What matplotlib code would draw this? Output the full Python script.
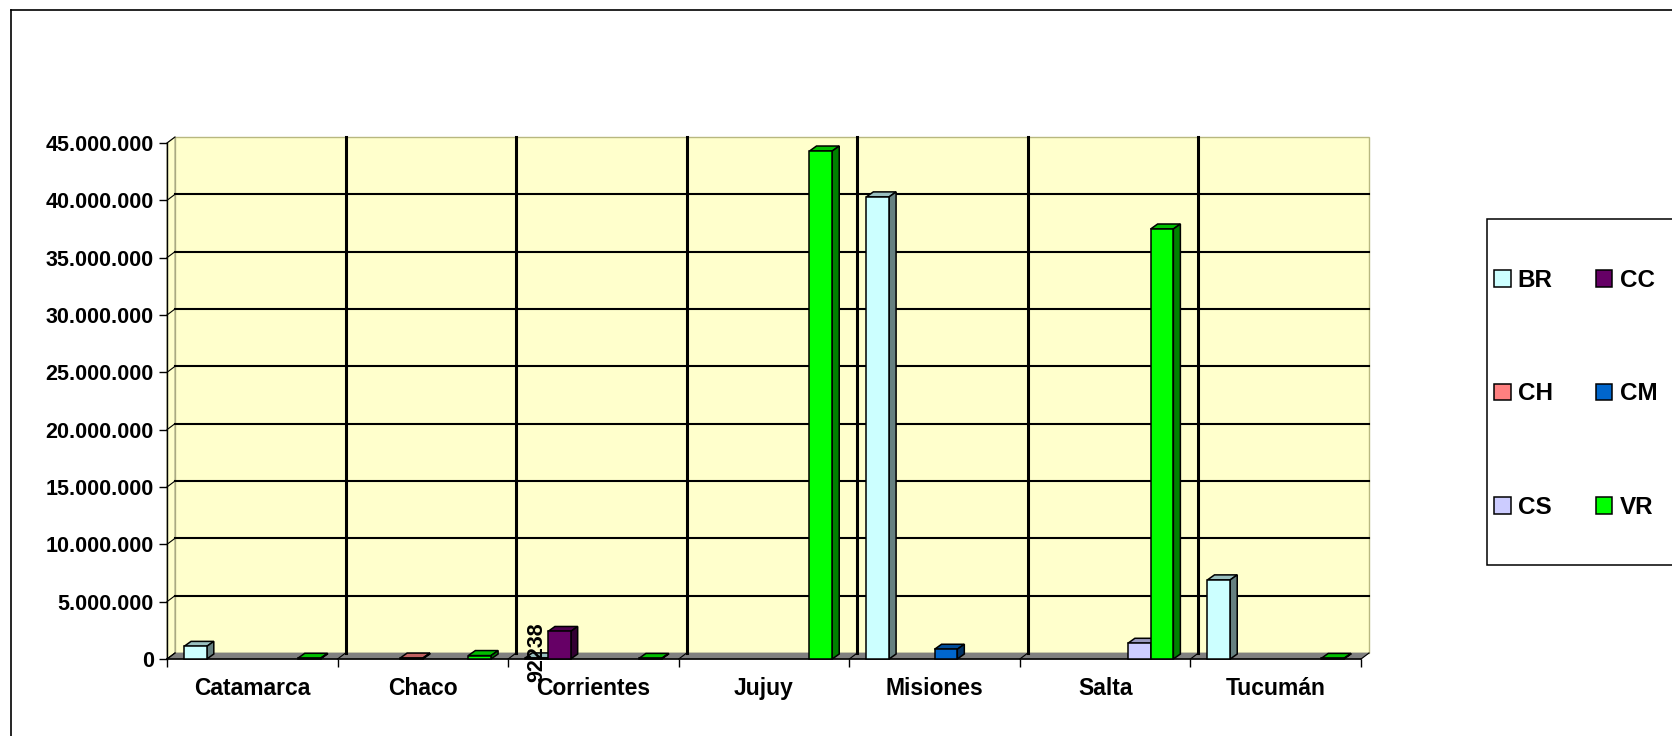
import matplotlib
matplotlib.use('Agg')
import matplotlib.pyplot as plt
import numpy as np
from matplotlib.patches import Polygon, Rectangle
from matplotlib.lines import Line2D
from matplotlib.ticker import FuncFormatter, FixedLocator

plt.rcParams['font.family'] = ['Liberation Sans', 'DejaVu Sans']
plt.rcParams['font.weight'] = 'bold'
plt.rcParams['font.size'] = 15

# datos
provincias = ['Catamarca', 'Chaco', 'Corrientes', 'Jujuy', 'Misiones', 'Salta', 'Tucumán']
series = ['BR', 'CC', 'CH', 'CM', 'CS', 'VR']
br = [1100000, 0, 92238, 0, 40300000, 0, 6900000]
cc = [0, 0, 2400000, 0, 0, 0, 0]
ch = [0, 80000, 0, 0, 0, 0, 0]
cm = [0, 0, 0, 0, 850000, 0, 0]
cs = [0, 0, 0, 0, 0, 1370000, 0]
vr = [60000, 300000, 50000, 44300000, 0, 37500000, 50000]
valores = [br, cc, ch, cm, cs, vr]
colores = ['#CCFFFF', '#660066', '#FF8080', '#0066CC', '#CCCCFF', '#00FF00']
y_ticks = list(range(0, 45000001, 5000000))

# geometria en pixeles
W, H = 1672, 736
AX_L, AX_R, AX_T, AX_B = 167, 1361, 143, 659
n = len(provincias)
ymax = 45000000
sx = n / (AX_R - AX_L)        # datos x por pixel
sy = ymax / (AX_B - AX_T)     # datos y por pixel
DX, DY = 8 * sx, 6 * sy       # profundidad de las paredes
BDX, BDY = 7 * sx, 5 * sy     # profundidad de las barras
ancho = 1 / 7.5               # gap 150%


def sombra(hexcol, f):
    c = np.array(matplotlib.colors.to_rgb(hexcol)) * f
    return tuple(c)


fig = plt.figure(figsize=(W / 100, H / 100), dpi=100)
ax = fig.add_axes([AX_L / W, 1 - AX_B / H, (AX_R - AX_L) / W, (AX_B - AX_T) / H])
ax.set_xlim(0, n)
ax.set_ylim(0, ymax)
ax.patch.set_visible(False)

# pared del fondo y pared izquierda
ax.add_patch(Rectangle((DX, DY), n, ymax, facecolor='#FFFFCC', edgecolor='#B8B880',
                       lw=1, clip_on=False, zorder=0))
ax.add_patch(Polygon([(0, 0), (DX, DY), (DX, ymax + DY), (0, ymax)], closed=True,
                     facecolor='#FFFFCC', edgecolor='#A0A080', lw=0.8, clip_on=False, zorder=0.5))
# piso
ax.add_patch(Polygon([(0, 0), (n, 0), (n + DX, DY), (DX, DY)], closed=True,
                     facecolor='#808080', edgecolor='#808080', lw=0.5, clip_on=False, zorder=1))

# lineas de division
for v in y_ticks[1:-1]:
    ax.plot([DX, n + DX], [v + DY, v + DY], color='black', lw=1.5, clip_on=False, zorder=1.2)
for v in y_ticks:
    ax.plot([0, DX], [v, v + DY], color='black', lw=0.8, clip_on=False, zorder=1.2)
for i in range(1, n):
    ax.plot([i + DX, i + DX], [DY, ymax + DY], color='black', lw=2.2, clip_on=False, zorder=1.1)
for i in range(n + 1):
    ax.plot([i, i + DX], [0, DY], color='black', lw=0.8, clip_on=False, zorder=1.2)

# barras
contenedores = []
for j, (nombre, vals, col) in enumerate(zip(series, valores, colores)):
    idx = [i for i in range(n) if vals[i] > 0]
    x0 = [i + 0.75 * ancho + j * ancho for i in idx]
    h = [vals[i] for i in idx]
    bc = ax.bar(x0, h, width=ancho, align='edge', color=col, edgecolor='black',
                lw=1.1, label=nombre, clip_on=False)
    contenedores.append(bc)
    for k, (xa, hv, rect) in enumerate(zip(x0, h, bc.patches)):
        z = 3 + xa * 0.1
        rect.set_zorder(z + 0.02)
        xb = xa + ancho
        ax.add_patch(Polygon([(xa, hv), (xb, hv), (xb + BDX, hv + BDY), (xa + BDX, hv + BDY)],
                             closed=True, facecolor=sombra(col, 0.75), edgecolor='black',
                             lw=1.1, clip_on=False, zorder=z))
        ax.add_patch(Polygon([(xb, 0), (xb + BDX, BDY), (xb + BDX, hv + BDY), (xb, hv)],
                             closed=True, facecolor=sombra(col, 0.5), edgecolor='black',
                             lw=1.1, clip_on=False, zorder=z + 0.01))

# etiqueta de dato
ax.annotate('92238', xy=(2 + 0.75 * ancho + 0.5 * ancho, br[2]), xytext=(0, 6),
            textcoords='offset pixels', rotation=90, ha='center', va='center',
            fontsize=15.5, zorder=10, annotation_clip=False)

# ejes
for s in ['top', 'right']:
    ax.spines[s].set_visible(False)
ax.spines['left'].set_linewidth(1)
ax.spines['bottom'].set_linewidth(1.2)
ax.spines['left'].set_zorder(2)
ax.spines['bottom'].set_zorder(2)
ax.yaxis.set_major_locator(FixedLocator(y_ticks))
ax.yaxis.set_major_formatter(FuncFormatter(lambda v, p: f'{int(v):,}'.replace(',', '.')))
ax.tick_params(axis='y', direction='out', length=6, width=1, pad=3.6, labelsize=15.5)
ax.xaxis.set_major_locator(FixedLocator(range(n + 1)))
ax.xaxis.set_major_formatter(FuncFormatter(lambda v, p: ''))
ax.xaxis.set_minor_locator(FixedLocator([i + 0.5 for i in range(n)]))
ax.set_xticklabels(provincias, minor=True)
ax.tick_params(axis='x', which='major', direction='out', length=6, width=1)
ax.tick_params(axis='x', which='minor', length=0, pad=13, labelsize=16.5)

# leyenda
orden = [0, 2, 4, 1, 3, 5]
fig.add_artist(Rectangle((1487 / W, 1 - 565 / H), 0.2, (565 - 219) / H, transform=fig.transFigure,
                         facecolor='white', edgecolor='black', lw=1.1, zorder=5))
leg = fig.legend([contenedores[k] for k in orden], [series[k] for k in orden], ncol=2,
                 frameon=False, loc='upper left', bbox_to_anchor=(1494 / W, 1 - 269 / H),
                 borderpad=0, borderaxespad=0, handlelength=0.68, handleheight=0.68,
                 handletextpad=0.3, columnspacing=1.77, labelspacing=3.72, fontsize=17.5)
leg.set_zorder(6)

# borde del grafico
fig.add_artist(Line2D([11 / W, 1], [1 - 9.5 / H, 1 - 9.5 / H], transform=fig.transFigure,
                      color='black', lw=1.2))
fig.add_artist(Line2D([11 / W, 11 / W], [0, 1 - 9.5 / H], transform=fig.transFigure,
                      color='black', lw=1.2))

fig.savefig('out.png', dpi=100)
